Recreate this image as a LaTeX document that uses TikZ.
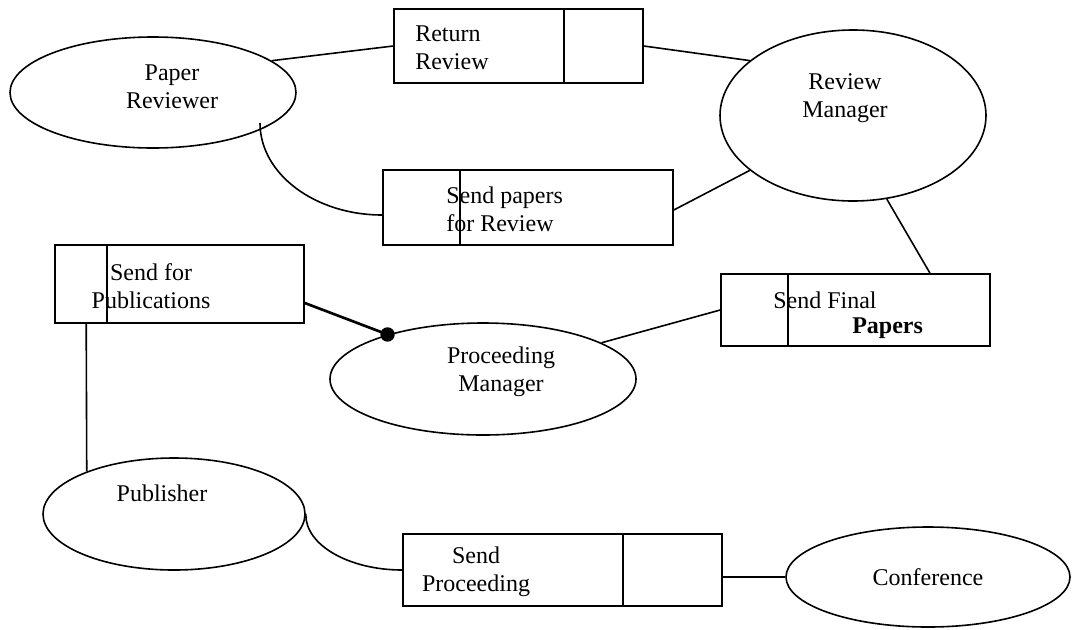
\documentclass[tikz,border=0pt]{standalone}
\usepackage{fontspec}
\setmainfont{Liberation Serif}
\usetikzlibrary{shapes.geometric,calc}
\def\pxu{0.75pt}
\begin{document}
\begin{tikzpicture}[x=0.75pt,y=-0.75pt,
  txt/.style={inner sep=0pt,font=\fontsize{18pt}{21pt}\selectfont},
  store/.style={draw,line width=1.2pt,rectangle,inner sep=0pt},
  agent/.style={draw,line width=1.2pt,ellipse,inner sep=0pt},
  link/.style={line width=1.2pt},
  heavy/.style={line width=2pt}]
\useasboundingbox (0,0) rectangle (1080,629);

% actors
\node[agent,minimum width=286*\pxu,minimum height=111*\pxu] (pr) at (153,92.5) {};
\node[agent,minimum width=266*\pxu,minimum height=171*\pxu] (rm) at (853,115.5) {};
\node[agent,minimum width=306*\pxu,minimum height=112*\pxu] (pm) at (483,379) {};
\node[agent,minimum width=262*\pxu,minimum height=112*\pxu] (pub) at (174,514) {};
\node[agent,minimum width=284*\pxu,minimum height=100*\pxu] (conf) at (928,577) {};

\node[txt,align=center] (prt) at (172,86.5) {Paper\\Reviewer};
\node[txt,align=center] (rmt) at (845,98) {Review\\Manager};
\node[txt,align=center] (pmt) at (501,372) {Proceeding\\Manager};
\node[txt] (pubt) at (162,493) {Publisher};
\node[txt] (conft) at (928,577) {Conference};

% data stores
\node[store,minimum width=249*\pxu,minimum height=74*\pxu] (rr) at (518.5,46) {};
\node[store,minimum width=290*\pxu,minimum height=75*\pxu] (sp) at (528,207.5) {};
\node[store,minimum width=249*\pxu,minimum height=78*\pxu] (spub) at (179.5,284) {};
\node[store,minimum width=269*\pxu,minimum height=72*\pxu] (sf) at (855.5,310) {};
\node[store,minimum width=319*\pxu,minimum height=72*\pxu] (spro) at (562.5,570) {};

% store dividers
\draw[link] ($(rr.north west)+(171,0)$) -- ($(rr.south west)+(171,0)$);
\draw[link] ($(sp.north west)+(78,0)$) -- ($(sp.south west)+(78,0)$);
\draw[link] ($(spub.north west)+(53,0)$) -- ($(spub.south west)+(53,0)$);
\draw[link] ($(sf.north west)+(68,0)$) -- ($(sf.south west)+(68,0)$);
\draw[link] ($(spro.north west)+(221,0)$) -- ($(spro.south west)+(221,0)$);

\node[txt,anchor=west,align=left] (rrt) at (415,48) {Return\\Review};
\node[txt,anchor=west,align=left] (spt) at (446,209) {Send papers\\for Review};
\node[txt,align=center] (spubt) at (151,286) {Send for\\Publications};
\node[txt,anchor=west] (sft) at (773,300) {Send Final};
\node[txt,anchor=west,font=\fontsize{18pt}{21pt}\selectfont\bfseries] (sfb) at (852,328) {Papers};
\node[txt,align=center] (sprot) at (476,572) {Send\\Proceeding};

% flows
\coordinate (prin) at (260,123);
\draw[link] (pr.15.5) -- (rr.west);
\draw[link] (rr.east) -- (rm.152.8);
\draw[link] (prin) .. controls (260,174) and (315,215) .. ($(sp.west)+(0,7.5)$);
\draw[link] ($(sp.east)+(0,2.5)$) -- (rm.208.5);
\draw[link] (rm.-68) -- ($(sf.north)+(74.5,0)$);
\draw[link] (sf.west) -- (pm.17);
\draw[heavy] ($(spub.east)+(0,19)$) -- (pm.155);
\fill (pm.155) circle (5.4pt);
\draw[link] ($(spub.south west)+(32,0)$) -- (pub.154);
\draw[link] (pub.east) .. controls (305,545) and (349,570) .. (spro.west);
\draw[link] (conf.west -| spro.east) -- (conf.west);
\end{tikzpicture}
\end{document}
